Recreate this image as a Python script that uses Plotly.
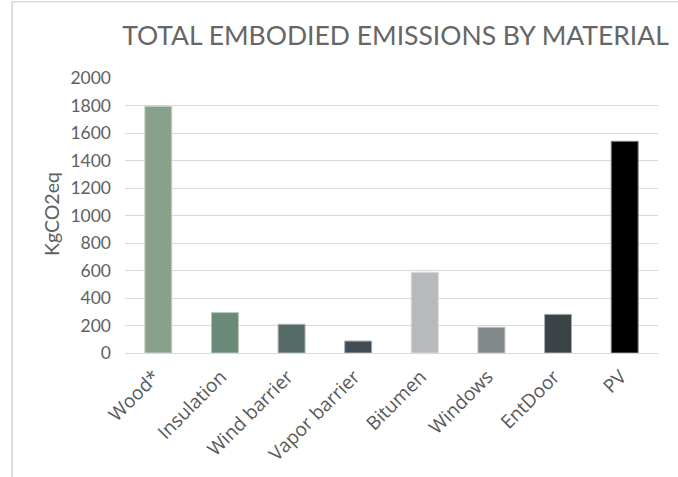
import plotly.graph_objects as go

categories = ["Wood*", "Insulation", "Wind barrier", "Vapor barrier", "Bitumen", "Windows", "EntDoor", "PV"]
values = [1795, 294, 209, 87, 587, 187, 281, 1540]
colors = ["#87A18A", "#6A8B79", "#556B67", "#404D56", "#B6BABA", "#83888A", "#3B4346", "#000000"]
outline = ["#C8D3C9", "#B9C8BF", "#AEB8B5", "#A8AEB3", "#D8DADA", "#BFC2C3", "#A8ACAE", "#888888"]
y_ticks = [0, 200, 400, 600, 800, 1000, 1200, 1400, 1600, 1800, 2000]

W, H = 678, 477
L, R, T, B = 125.4, 19.5, 77.7, 124.3
pw = W - L - R
ph = H - T - B

fig = go.Figure(go.Bar(
    x=categories, y=values,
    marker=dict(color=colors, line=dict(color=outline, width=1)),
    width=0.405,
))

def px2paper_x(px):
    return (px - L) / pw

def px2paper_y(py):
    return (H - B - py) / ph

fig.update_layout(
    width=W, height=H,
    margin=dict(l=L, r=R, t=T, b=B, autoexpand=False),
    paper_bgcolor="white", plot_bgcolor="white",
    showlegend=False,
    title=dict(text="TOTAL EMBODIED EMISSIONS BY MATERIAL",
               font=dict(family="Lato", size=26.5, color="#666666"),
               x=395.5 / W, xanchor="center", y=1 - 36 / H, yanchor="middle"),
    xaxis=dict(tickangle=-45, tickfont=dict(family="Open Sans", size=19, color="#595959"),
               showgrid=False, showline=False, ticks="", range=[-0.5, 7.5],
               ticklabelstandoff=8, ticklabelshift=-4),
    yaxis=dict(range=[0, 2000], tickvals=y_ticks,
               tickfont=dict(family="Lato", size=17.5, color="#5F5F5F"),
               showgrid=True, gridcolor="#D9D9D9", gridwidth=1,
               zeroline=True, zerolinecolor="#D9D9D9", zerolinewidth=1,
               showline=False, ticks="", ticklen=0, ticklabelstandoff=13),
    annotations=[dict(text="KgCO2eq", xref="paper", yref="paper",
                      x=px2paper_x(52), y=px2paper_y(214), textangle=-90,
                      showarrow=False, xanchor="center", yanchor="middle",
                      font=dict(family="Lato", size=19.5, color="#5F5F5F"))],
    shapes=[
        dict(type="line", xref="paper", yref="paper",
             x0=px2paper_x(12.5), x1=px2paper_x(12.5), y0=px2paper_y(1.5), y1=px2paper_y(490),
             line=dict(color="#DCDCDC", width=2)),
        dict(type="line", xref="paper", yref="paper",
             x0=px2paper_x(12), x1=px2paper_x(690), y0=px2paper_y(1.5), y1=px2paper_y(1.5),
             line=dict(color="#DCDCDC", width=1.5)),
    ],
)

fig.write_html("out.html", config={"displayModeBar": False},
               post_script="document.body.style.margin='0';document.body.style.overflow='hidden';")
